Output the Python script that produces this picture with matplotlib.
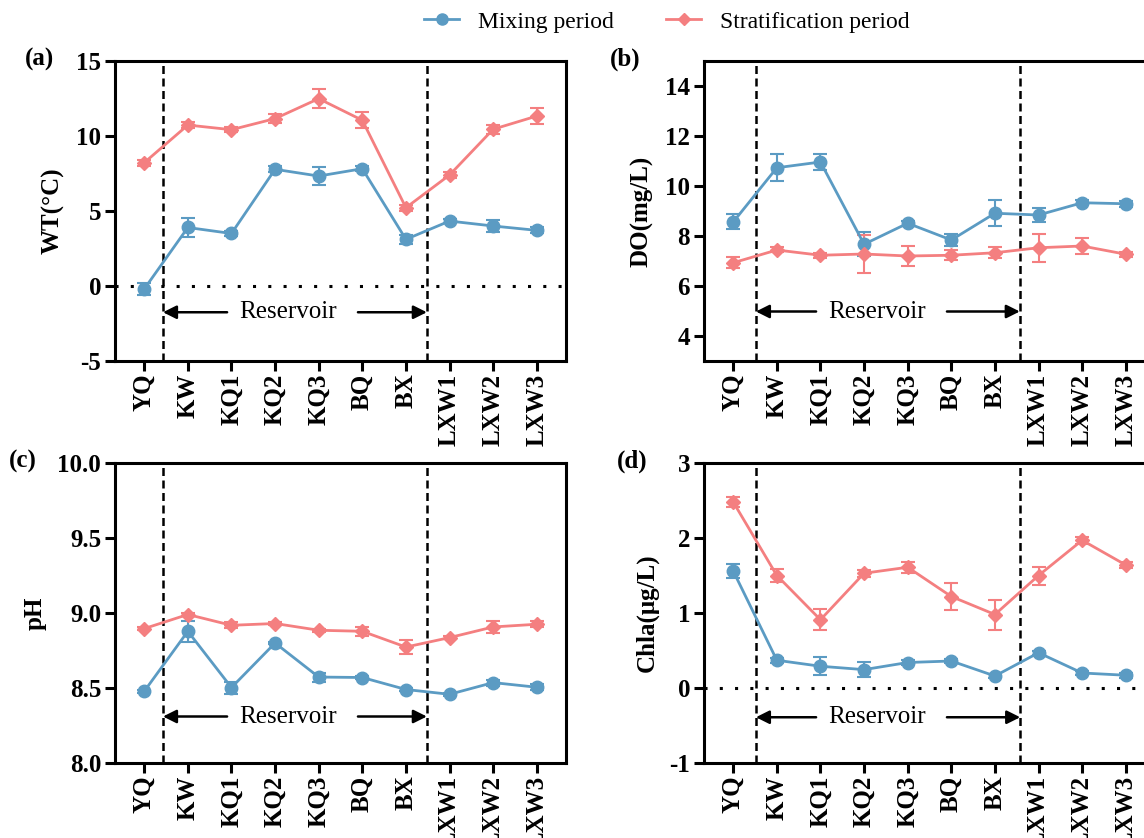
import numpy as np
import matplotlib
matplotlib.use("Agg")
import matplotlib.pyplot as plt
from matplotlib.lines import Line2D

plt.rcParams['font.family'] = ['Liberation Serif', 'DejaVu Serif']

sites = ["YQ", "KW", "KQ1", "KQ2", "KQ3", "BQ", "BX", "LXW1", "LXW2", "LXW3"]

# WT (°C)
wt_mix = [-0.2, 3.9, 3.5, 7.78, 7.33, 7.82, 3.11, 4.33, 4.0, 3.71]
wt_mix_err = [0.4, 0.65, 0.15, 0.2, 0.6, 0.15, 0.3, 0.15, 0.42, 0.2]
wt_str = [8.22, 10.73, 10.42, 11.16, 12.49, 11.05, 5.22, 7.4, 10.45, 11.33]
wt_str_err = [0.2, 0.2, 0.15, 0.3, 0.65, 0.55, 0.2, 0.2, 0.3, 0.55]

# DO (mg/L)
do_mix = [8.56, 10.73, 10.96, 7.67, 8.51, 7.84, 8.91, 8.84, 9.33, 9.29]
do_mix_err = [0.3, 0.55, 0.33, 0.48, 0.1, 0.23, 0.53, 0.27, 0.1, 0.12]
do_str = [6.93, 7.44, 7.23, 7.28, 7.2, 7.23, 7.33, 7.53, 7.6, 7.27]
do_str_err = [0.22, 0.1, 0.1, 0.75, 0.41, 0.2, 0.22, 0.56, 0.32, 0.1]

# pH
ph_mix = [8.478, 8.878, 8.503, 8.8, 8.573, 8.57, 8.49, 8.458, 8.536, 8.505]
ph_mix_err = [0.01, 0.07, 0.04, 0.01, 0.03, 0.01, 0.01, 0.01, 0.02, 0.02]
ph_str = [8.896, 8.99, 8.918, 8.93, 8.885, 8.878, 8.773, 8.836, 8.907, 8.925]
ph_str_err = [0.01, 0.01, 0.02, 0.01, 0.01, 0.03, 0.045, 0.01, 0.04, 0.02]

# Chla (μg/L)
chl_mix = [1.56, 0.37, 0.29, 0.245, 0.34, 0.36, 0.16, 0.47, 0.2, 0.17]
chl_mix_err = [0.09, 0.03, 0.12, 0.1, 0.03, 0.03, 0.03, 0.03, 0.03, 0.03]
chl_str = [2.48, 1.5, 0.91, 1.53, 1.61, 1.22, 0.98, 1.5, 1.97, 1.64]
chl_str_err = [0.07, 0.09, 0.14, 0.05, 0.07, 0.18, 0.2, 0.12, 0.05, 0.04]

blue = "#5b9bc3"
red = "#f47f80"

W, H = 1144, 838
fig = plt.figure(figsize=(W / 100, H / 100), dpi=100)

x = np.arange(len(sites))
aw = 451 / W
ah = 300 / H

panels = [
    # left px, top px, mix, mix err, str, str err, ylim, ticks, ylabel, tag, tag offset, dashes, arrow y, zero line
    (115, 61, wt_mix, wt_mix_err, wt_str, wt_str_err, (-5, 15), [-5, 0, 5, 10, 15],
     "WT(°C)", "(a)", 76, (0.43, 6.48), -1.75, True, "{:.0f}"),
    (704, 61, do_mix, do_mix_err, do_str, do_str_err, (3, 15), [4, 6, 8, 10, 12, 14],
     "DO(mg/L)", "(b)", 79, (0.52, 6.57), 4.98, False, "{:.0f}"),
    (115, 463, ph_mix, ph_mix_err, ph_str, ph_str_err, (8.0, 10.0), [8.0, 8.5, 9.0, 9.5, 10.0],
     "pH", "(c)", 92, (0.43, 6.48), 8.31, False, "{:.1f}"),
    (704, 463, chl_mix, chl_mix_err, chl_str, chl_str_err, (-1, 3), [-1, 0, 1, 2, 3],
     "Chla(μg/L)", "(d)", 72, (0.52, 6.58), -0.39, True, "{:.0f}"),
]

for (lp, tp, ym, em, ys, es, ylim, yt, ylab, tag, toff, dl, ay, zero, fmt) in panels:
    ax = fig.add_axes([lp / W, 1 - (tp + 300) / H, aw, ah])
    ax.errorbar(x, ym, yerr=em, color=blue, marker='o', markersize=9, lw=2,
                elinewidth=1.5, capsize=5, capthick=1.5, zorder=3)
    ax.errorbar(x, ys, yerr=es, color=red, marker='D', markersize=7.5, lw=2,
                elinewidth=1.5, capsize=5, capthick=1.5, zorder=3)
    ax.set_xlim(-0.67, 9.67)
    ax.set_ylim(*ylim)
    ax.set_yticks(yt)
    ax.set_yticklabels([fmt.format(v) for v in yt])
    ax.set_xticks(x)
    ax.set_xticklabels(sites, rotation=90)
    for lab in ax.get_xticklabels() + ax.get_yticklabels():
        lab.set_fontweight('bold')
        lab.set_fontsize(18)
    ax.tick_params(direction='out', length=7, width=2.2)
    ax.tick_params(axis='x', pad=2)
    ax.tick_params(axis='y', pad=3)
    for s in ax.spines.values():
        s.set_linewidth(2.2)
    ax.set_ylabel(ylab, fontsize=18, fontweight='bold', labelpad=8)
    for xv in dl:
        ax.axvline(xv, color='k', lw=1.8, ls=(0, (3.2, 1.8)), zorder=1)
    if zero:
        ax.axhline(0, color='k', lw=2.2, ls=(0, (1, 4)), zorder=1)
    ax.text(3.3, ay, "Reservoir", fontsize=18, ha='center', va='center')
    ax.annotate('', xy=(dl[0], ay), xytext=(1.9, ay),
                arrowprops=dict(arrowstyle='-|>', color='k', lw=1.8, mutation_scale=20,
                                shrinkA=0, shrinkB=0))
    ax.annotate('', xy=(dl[1], ay), xytext=(4.9, ay),
                arrowprops=dict(arrowstyle='-|>', color='k', lw=1.8, mutation_scale=20,
                                shrinkA=0, shrinkB=0))
    fig.text((lp - toff) / W, 1 - (tp - 2) / H, tag, fontsize=18, fontweight='bold',
             ha='center', va='center')

handles = [
    Line2D([], [], color=blue, marker='o', markersize=8, lw=2),
    Line2D([], [], color=red, marker='D', markersize=6.5, lw=2),
]
labels = ["Mixing period", "Stratification period"]
fig.legend(handles, labels, loc='center', bbox_to_anchor=(0.583, 1 - 22 / H),
           ncol=2, frameon=False, fontsize=17, handlelength=1.5, columnspacing=2.2,
           handletextpad=0.8)

fig.savefig("out.png", dpi=100)
